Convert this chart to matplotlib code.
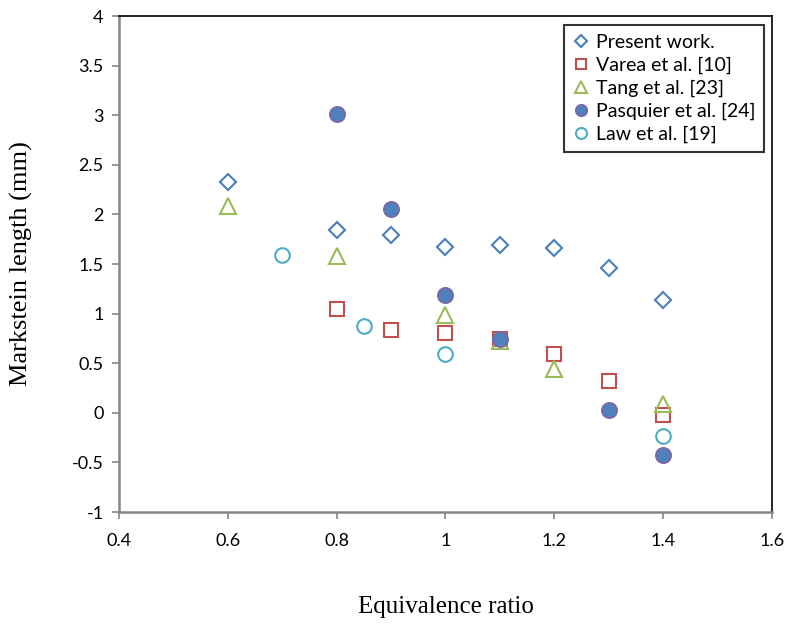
import matplotlib
matplotlib.use("Agg")
import matplotlib.pyplot as plt

# Data
present_x = [0.6, 0.8, 0.9, 1.0, 1.1, 1.2, 1.3, 1.4]
present_y = [2.33, 1.84, 1.79, 1.67, 1.69, 1.66, 1.46, 1.14]

varea_x = [0.8, 0.9, 1.0, 1.1, 1.2, 1.3, 1.4]
varea_y = [1.05, 0.83, 0.80, 0.74, 0.59, 0.32, -0.02]

tang_x = [0.6, 0.8, 1.0, 1.1, 1.2, 1.4]
tang_y = [2.08, 1.58, 0.99, 0.72, 0.44, 0.09]

pasq_x = [0.8, 0.9, 1.0, 1.1, 1.3, 1.4]
pasq_y = [3.01, 2.05, 1.19, 0.74, 0.03, -0.43]

law_x = [0.7, 0.85, 1.0, 1.4]
law_y = [1.59, 0.88, 0.59, -0.23]

xticks = [0.4, 0.6, 0.8, 1.0, 1.2, 1.4, 1.6]
xticklabels = ["0.4", "0.6", "0.8", "1", "1.2", "1.4", "1.6"]
yticks = [-1, -0.5, 0, 0.5, 1, 1.5, 2, 2.5, 3, 3.5, 4]
yticklabels = ["-1", "-0.5", "0", "0.5", "1", "1.5", "2", "2.5", "3", "3.5", "4"]

fig = plt.figure(figsize=(7.9, 6.28), dpi=100)
ax = fig.add_axes([0.1506, 0.1847, 0.8266, 0.7898])

ax.plot(present_x, present_y, linestyle="none", marker="D", markersize=8.5,
        markerfacecolor="white", markeredgecolor="#4a7ebb", markeredgewidth=1.5,
        label="Present work.")
ax.plot(varea_x, varea_y, linestyle="none", marker="s", markersize=10,
        markerfacecolor="none", markeredgecolor="#c0504d", markeredgewidth=1.5,
        label="Varea et al. [10]")
ax.plot(tang_x, tang_y, linestyle="none", marker="^", markersize=12,
        markerfacecolor="none", markeredgecolor="#9bbb59", markeredgewidth=1.5,
        label="Tang et al. [23]")
ax.plot(pasq_x, pasq_y, linestyle="none", marker="o", markersize=11,
        markerfacecolor="#4f81bd", markeredgecolor="#8064a2", markeredgewidth=1.2,
        label="Pasquier et al. [24]")
ax.plot(law_x, law_y, linestyle="none", marker="o", markersize=10.5,
        markerfacecolor="none", markeredgecolor="#4bacc6", markeredgewidth=1.5,
        label="Law et al. [19]")

ax.set_xlim(0.4, 1.6)
ax.set_ylim(-1, 4)
ax.set_xticks(xticks)
ax.set_xticklabels(xticklabels)
ax.set_yticks(yticks)
ax.set_yticklabels(yticklabels)

for lab in ax.get_xticklabels() + ax.get_yticklabels():
    lab.set_fontfamily("Lato")
    lab.set_fontsize(13)

ax.tick_params(axis="both", direction="out", length=5, width=1.2, color="#868686", pad=6)
ax.tick_params(axis="x", pad=10)

ax.spines["left"].set_color("#868686")
ax.spines["bottom"].set_color("#868686")
ax.spines["left"].set_linewidth(1.8)
ax.spines["bottom"].set_linewidth(1.8)
ax.spines["top"].set_color("black")
ax.spines["right"].set_color("black")
ax.spines["top"].set_linewidth(1.2)
ax.spines["right"].set_linewidth(1.2)

ax.set_xlabel("Equivalence ratio", family="Liberation Serif", fontsize=18, labelpad=34)
ax.set_ylabel("Markstein length (mm)", family="Liberation Serif", fontsize=19, labelpad=28)

leg = ax.legend(loc="upper right", bbox_to_anchor=(0.988, 0.982), borderaxespad=0,
                frameon=True, fancybox=False, edgecolor="black",
                prop={"family": "Lato", "size": 14}, handletextpad=0.3,
                handlelength=0.9, labelspacing=0.3, borderpad=0.45, markerscale=0.75)
leg.get_frame().set_linewidth(1.5)

fig.savefig("out.png", dpi=100)
